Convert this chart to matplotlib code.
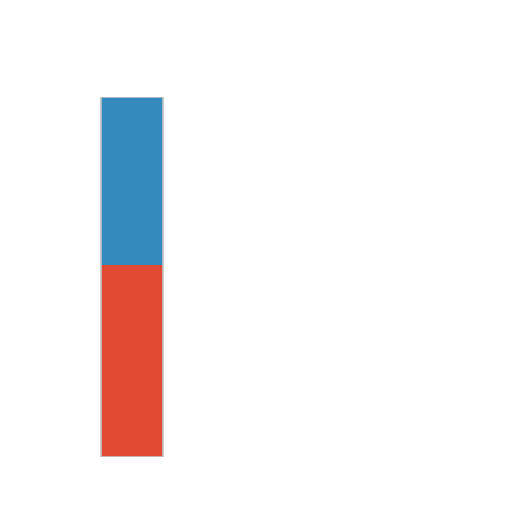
import matplotlib
matplotlib.use("Agg")
import matplotlib.pyplot as plt

categories = ["A"]
bottom_values = [8]
top_values = [7]

totals = [b + t for b, t in zip(bottom_values, top_values)]

fig = plt.figure(figsize=(5.12, 5.12), dpi=100)
ax = fig.add_axes([93.25/512, 55/512, 310/512, 360/512])
x = range(len(categories))
ax.bar(x, bottom_values, width=0.8, color="#E24A33", linewidth=0)
ax.bar(x, top_values, bottom=bottom_values, width=0.8, color="#348ABD", linewidth=0)
ax.bar(x, totals, width=0.8, fill=False, edgecolor="#c4c4c4", linewidth=1.2)
ax.set_xlim(-0.5, 3.5)
ax.set_ylim(0, 15)
ax.axis("off")
fig.savefig("out.png", dpi=100, facecolor="white")
